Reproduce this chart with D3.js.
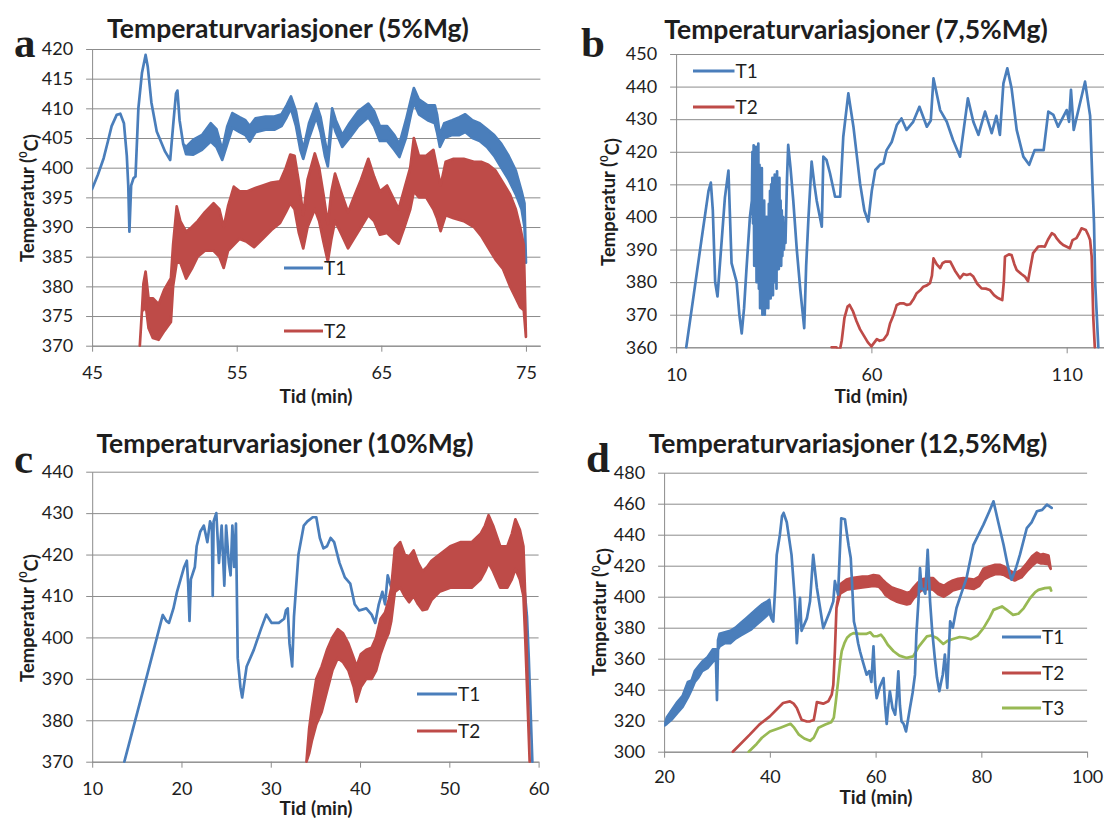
<!DOCTYPE html>
<html>
<head>
<meta charset="utf-8">
<script src="https://cdn.jsdelivr.net/npm/d3@7"></script>
<style>
  body { margin: 0; background: #fff; }
  text { font-family: Lato, "Open Sans", sans-serif; fill: #1e1e1e; }
</style>
</head>
<body>
<script>
// ---- titles / labels ----
const titles = ["Temperaturvariasjoner (5%Mg)", "Temperaturvariasjoner (7,5%Mg)",
                "Temperaturvariasjoner (10%Mg)", "Temperaturvariasjoner (12,5%Mg)"];
const letters = ["a", "b", "c", "d"];
const xTitle = "Tid (min)";
const seriesNames = ["T1", "T2", "T3"];
const colors = { T1: "#4A7EBB", T2: "#BE4B48", T3: "#98B954" };

// ---- tick values ----
const aXTicks = [45, 55, 65, 75];
const aYTicks = [370, 375, 380, 385, 390, 395, 400, 405, 410, 415, 420];
const bXTicks = [10, 60, 110];
const bYTicks = [360, 370, 380, 390, 400, 410, 420, 430, 440, 450];
const cXTicks = [10, 20, 30, 40, 50, 60];
const cYTicks = [370, 380, 390, 400, 410, 420, 430, 440];
const dXTicks = [20, 40, 60, 80, 100];
const dYTicks = [300, 320, 340, 360, 380, 400, 420, 440, 460, 480];

// ---- series: [time, temp] or [time, low, high] where the trace is a noisy band ----
const aT1 = [[45,396.4],[45.4,398.8],[45.8,401.6],[46.1,404.5],[46.35,407],[46.7,408.9],[46.95,409.1],[47.2,407.5],[47.4,402],[47.5,397],[47.58,389.2],[47.7,397],[47.86,398.2],[48,398.5],[48.2,410],[48.45,416],[48.7,419],[48.85,417],[49.1,411],[49.47,406.1],[50.05,402.7],[50.4,401.3],[50.6,407],[50.8,412.5],[50.9,413],[51.05,408],[51.3,404],[51.5,402.3,403.5],[52,402.2,404.7],[52.6,403,405.5],[53.2,404.4,407.5],[53.6,403.5,406.5],[54,401.3,403],[54.35,404,407],[54.7,406.7,409.2],[55.2,406,408.5],[55.6,405.5,408],[55.9,404.4,407],[56.3,406,408.3],[57,406.4,408.6],[57.6,406.4,408.6],[58.1,407,409],[58.45,408.5,410.5],[58.75,410,412],[59.1,407,409.5],[59.4,403,405.5],[59.6,401.5,403],[60,405,407.5],[60.5,408.5,410.8],[60.8,406,408.5],[61.1,402,404.5],[61.3,400.2,402],[61.45,404,406],[61.6,408,410],[61.85,406,408],[62.3,403.5,405.5],[62.8,405,407.5],[63.4,407,409.5],[64.1,408.5,410.8],[64.5,407,409.5],[64.9,404.5,407],[65.4,404.5,407],[65.9,403,405.5],[66.25,401.8,404],[66.7,405,408],[67.05,409,411.5],[67.25,411,413.4],[67.6,409,411.5],[68.2,408,410.5],[68.7,407.5,410.5],[68.85,406,409],[69.05,403.5,405.5],[69.35,405,407.5],[69.9,405.5,408],[70.4,405.5,408.5],[70.8,406,409],[71.3,405,408],[71.8,404.5,407.5],[72.3,403.5,406.5],[72.8,402,405.5],[73.3,400,404],[73.8,398,402],[74.3,395.5,399.5],[74.7,393,396],[74.9,390,394],[75,384]];
const aT2 = [[48.3,370],[48.45,376],[48.55,376,380.5],[48.7,377,382.5],[48.9,373,378],[49.2,371.3,378],[49.6,371,377],[50,372.5,379.5],[50.45,374,381.4],[50.6,380,387],[50.85,384,393.5],[51.1,384,391],[51.5,381.3,389.2],[51.9,383,390],[52.3,385,391],[52.8,386,392.5],[53.4,386,394],[53.8,385,393],[54.1,383.1,390],[54.4,386,393.5],[54.8,387,396.8],[55.2,388,396],[55.7,387.5,396],[56.2,386.6,396.5],[56.8,388,397],[57.4,389.5,397.5],[58,390.7,397.7],[58.4,392.5,400],[58.7,394,402.2],[59,393,402],[59.3,389,397.5],[59.6,386.4,392],[59.9,390,398],[60.4,393,402.4],[60.7,391,400],[61,387.5,395.5],[61.3,384.2,390.5],[61.55,388,396],[61.8,391,399],[62.2,389,396],[62.7,386.4,392.5],[63.1,388,395],[63.6,390,398],[64.1,392,401.5],[64.5,391,398.5],[64.9,388.7,396],[65.4,389,397],[65.8,388,395],[66.2,387.2,393],[66.6,390,396.5],[67,393,400],[67.25,396,405],[67.6,395,402],[68.1,395,402],[68.6,393,403],[68.85,391.5,400],[69.1,389.3,397],[69.45,392,401],[70,391.5,401.5],[70.7,391,401.5],[71.4,390,401],[71.9,388.5,401],[72.4,386.5,400.5],[72.9,384.5,399.5],[73.4,383,397.5],[73.9,380,395.5],[74.3,378,393],[74.6,376.5,390],[74.85,376,387],[75,371.5]];

const bT1 = [[12.6,360],[14.5,376],[16.5,393],[18.3,408],[18.9,410.5],[19.4,402],[20.0,380],[20.6,375.6],[21.5,390],[22.5,406],[23.4,414.2],[23.8,400],[24.2,385.8],[25.5,380],[26.2,370],[26.8,364.3],[27.4,372],[28.0,383.7],[28.9,400],[29.4,405],[29.55,420],[29.7,398],[29.85,422],[30.0,385],[30.15,415],[30.3,395],[30.45,421.5],[30.6,380],[30.75,418],[30.9,400],[31.05,422.5],[31.2,378],[31.35,416],[31.5,372],[31.65,410],[31.8,375],[31.95,415],[32.1,370],[32.25,398],[32.4,372],[32.55,405],[32.7,370],[32.85,396],[33.0,372],[33.15,400],[33.3,378],[33.45,395],[33.6,372],[33.75,404],[33.9,380],[34.05,408],[34.2,375],[34.35,410],[34.5,382],[34.65,412],[34.8,376],[34.95,408],[35.1,385],[35.25,413],[35.4,380],[35.55,410],[35.7,378],[35.85,414],[36.0,388],[36.15,405],[36.3,384],[36.45,412],[36.6,386],[36.75,405],[36.9,385],[37.05,402],[37.2,388],[37.4,400],[37.6,390],[37.8,395],[38.0,392],[38.4,412],[38.7,422.1],[39.3,415],[40.0,405],[40.9,390],[41.8,377.6],[42.8,365.9],[43.3,385],[43.9,400],[44.7,417],[45.4,410],[46.0,405],[47.3,397],[47.7,418.5],[48.5,417.5],[49.4,413.4],[50.7,406.2],[52.0,406.2],[52.8,424.6],[54.1,437.9],[55.4,427.7],[57.1,410.3],[58.2,402],[59.2,398.6],[60.1,408],[61.0,414.4],[62.2,416],[63.1,416.5],[63.9,420.5],[65.2,423],[66.5,428.2],[67.7,430.2],[69.0,426.7],[70.7,429.2],[72.3,433.8],[74.2,427.7],[75.2,429.6],[75.9,442.5],[77.6,432.8],[79.3,429.2],[80.9,423.6],[82.7,418.5],[84.7,436.4],[86.1,429.2],[87.4,425.2],[89.1,432.3],[90.8,425.7],[92.0,431],[92.9,425.2],[93.8,441],[94.8,445.6],[95.9,439.4],[97.2,426.7],[98.9,418.5],[100.4,416],[101.8,420.5],[103.1,420.5],[104.1,420.5],[105.3,432.3],[106.6,431.3],[107.8,427.7],[110.0,432.8],[110.6,429.2],[111.1,439],[111.8,426.7],[113.0,432.8],[114.7,441.5],[116.0,431],[116.6,410.3],[117.0,398],[117.3,379.7],[118.1,360]];
const bT2 = [[49.8,360],[51.0,360],[51.9,359],[52.4,362],[53.1,369],[53.9,372.5],[54.4,373],[55.3,371],[56.2,368],[57.1,365.5],[58.1,363.5],[59.1,361.5],[60.0,360.3],[61.4,362.5],[62.1,362],[63.1,362.3],[64.1,364],[64.8,367.4],[65.7,370],[66.5,373],[67.4,373.5],[68.2,373.5],[69.1,373],[69.9,373.2],[70.9,375],[71.6,376.6],[72.5,377.5],[73.3,378.6],[74.2,379],[75.0,379.7],[75.5,382],[75.9,387.3],[76.7,385.5],[77.6,384.3],[78.2,385.8],[78.9,386.3],[80.2,386.3],[81.4,383.5],[82.7,381.2],[83.6,382.5],[84.4,382.2],[85.3,382.5],[86.1,381.7],[87.1,379.5],[88.2,378.1],[89.3,378],[90.3,377.6],[91.4,376],[92.4,375.1],[93.5,374.5],[93.9,380],[94.2,387.8],[95.2,388.5],[95.9,388.3],[96.6,385.5],[97.2,383.7],[98.4,382.5],[99.3,381.7],[100.1,380.3],[100.8,385],[101.4,388.9],[102.7,390.9],[103.5,391],[104.4,390.9],[105.2,393],[106.2,395],[106.9,394.5],[107.4,393.5],[108.3,392.2],[109.1,391.4],[110.8,390.4],[111.5,392.9],[112.5,393.5],[113.2,395],[113.8,396.5],[114.9,396],[115.5,394.5],[116.0,392.9],[116.4,387.8],[116.8,369.4],[117.2,360]];

const cT1 = [[13.6,370],[15.8,388],[17.9,405.4],[18.3,404],[18.6,403.5],[19.1,407],[19.5,411],[19.9,414],[20.3,417],[20.6,418.5],[20.75,413],[20.9,404],[21.05,414],[21.5,417],[21.7,422],[22.1,425.5],[22.5,427],[22.9,423],[23.2,428],[23.4,427],[23.5,410],[23.6,428],[23.9,430],[24.2,418],[24.5,427],[24.8,412.5],[25,427],[25.3,418],[25.5,415],[25.7,427],[25.9,417],[26.1,427.5],[26.3,395],[26.6,388],[26.8,385.5],[27.3,393],[28.1,397],[28.9,402],[29.5,405.5],[30.1,403.5],[30.9,403.5],[31.5,404.5],[31.7,406.5],[31.9,407],[32.1,398.5],[32.4,393],[32.6,405],[33.1,420],[33.7,427],[34.1,428],[34.7,429],[35.1,429],[35.5,424],[35.9,421.5],[36.3,422],[36.7,424],[37.1,423],[37.7,418],[38.3,414.5],[38.9,413],[39.4,408],[39.9,406.5],[40.7,407],[41.3,405.5],[41.7,403.5],[42.1,408],[42.5,411],[42.8,408],[43.1,415],[43.5,412],[44.5,415],[46,414],[48,414],[50,415],[52,416],[54.5,418.7],[55.5,416],[56.5,414],[57.3,418],[58,417],[58.4,412],[58.7,405],[58.9,395],[59.3,370]];
const cT2 = [[34,370],[34.3,372,378],[34.6,375,383],[35.1,379,390],[35.7,382,393],[36.3,387,397],[36.9,392,400],[37.5,395,402],[38.1,394,401],[38.7,392,398.5],[39.3,388,395],[39.6,384.5,393],[40.1,388,396],[40.7,390,397],[41.3,390,397.5],[41.8,392,400],[42.3,396,404.5],[42.8,399,406],[43.2,401,409],[43.5,404,412],[43.9,411,421.5],[44.5,412,423],[45.0,410,420],[45.5,408.5,419.5],[46.0,410,421],[46.5,408,418],[47.0,406.6,416],[47.5,406.8,417],[48.0,409,418.5],[48.9,411,420],[50.1,412,422],[51.3,412,423],[52.5,412,423],[53.5,414,425],[54.0,416,427],[54.4,418,429.5],[54.9,416,427],[55.7,412,422],[56.5,412,422],[57.0,414,425],[57.4,416.5,428.5],[57.9,414,426],[58.3,410,422],[58.5,400,410],[58.75,385,390],[59.0,370]];

const dT1 = [[20.1,317],[20.5,318,322],[21.5,321,327],[22.5,325,332],[23.5,329,336],[24.5,335,345],[25.2,340,346],[25.8,345,352],[26.5,348,355],[27.2,352,358],[28.2,354,361],[29.2,358,366],[29.8,360,366],[30.0,333.3],[30.2,366,372],[30.5,368,376],[31.5,370,377],[32.5,370,378],[33.5,373,380],[34.5,375,383],[35.5,377,386],[36.5,379,389],[37.5,382,392],[38.5,385,395],[39.5,388,397],[39.9,390,398],[40.3,386],[40.65,384],[41.0,405],[41.3,427],[41.9,440],[42.3,452],[42.6,454],[43.2,448],[44.1,427],[44.75,397],[45.1,370],[45.7,399.2],[46.0,378],[47.0,386],[47.6,397],[48.2,427],[48.9,405.6],[50.1,379.8],[51.4,391],[52.0,397],[52.3,410],[52.9,401.4],[53.5,450.6],[54.2,450],[54.6,440],[54.9,433],[55.3,425],[55.6,405],[55.9,384],[56.3,378],[56.7,370],[57.05,364.8],[57.6,358],[58.3,349.7],[58.8,352],[59.2,345],[59.6,368],[59.9,345],[60.2,334.6],[60.8,342],[61.5,347.5],[61.8,330],[62.1,318],[62.4,330],[62.7,339],[63.2,328],[63.7,323.9],[64.0,335],[64.3,351.9],[64.6,330],[64.9,319.6],[65.3,318],[65.75,313.1],[66.1,320],[66.5,328.2],[67.0,338],[67.45,349.7],[67.7,375],[68.1,397],[68.4,418.5],[68.7,405],[69.0,405],[69.4,402],[69.85,430.3],[70.3,397],[70.7,378],[71.2,360.3],[71.6,348],[72.05,339],[72.4,345],[72.7,349.7],[73.1,362.6],[73.55,341.1],[74.1,384.1],[74.6,380],[75.3,392.7],[76.2,402],[77.2,412],[78.5,433.5],[80.4,446.5],[81.5,455],[82.3,461.5],[83.2,448],[84.2,433.5],[85.0,420],[85.7,411],[86.5,418],[87.3,427.1],[88.6,444.3],[89.5,448],[90.5,455.1],[91.5,456],[92.4,459.4],[93.3,457.3]];
const dT2 = [[33,300],[36.2,311],[38,317.5],[40,322.8],[42.5,331.4],[43.8,332.5],[44.5,331],[45.1,328.2],[46,320.6],[47,319.5],[47.6,319.6],[48.3,320.5],[48.6,326],[48.9,332],[50.1,331],[51.05,332.5],[51.7,336.8],[52,343],[52.3,364.8],[52.6,392.7],[53.3,402,408],[54.5,404.5,411],[55.5,405,412],[56.5,405.5,412.5],[57.5,406,413],[58.6,406.5,413],[59.6,407,414],[60.6,406.5,413.5],[61.3,404,411],[61.9,401,409],[63,398.5,406],[63.9,397,405],[64.8,396,404],[65.9,395,402.5],[66.5,395.5,403],[67.2,399,406],[68,402,409],[68.6,404,411],[69.9,405,412],[70.9,404.5,412],[71.9,401.5,408.5],[72.9,400,407],[73.8,402,409],[74.6,404,410.5],[75.6,405,411.5],[76.6,406,412],[77.6,405.5,411.5],[78.6,405,411],[79.6,407,413],[80.4,411,418],[81.5,413,419.5],[82.6,414.5,420.5],[83.6,414.5,420.5],[84.3,414,419.5],[85.3,412,417],[86.3,410.5,415],[87.6,412.5,417.5],[88.6,416.5,421.5],[89.6,420,426],[90.5,422.5,428.5],[91.2,421.5,427],[91.7,421.5,427.5],[92.7,421,426.5],[93.1,418]];
const dT3 = [[36,300],[37.5,305],[38.5,309],[40,313],[42,315.5],[43.9,318],[44.6,315.5],[45.5,311],[46.5,308.5],[47.6,307],[48.3,309],[49.2,315.5],[50.5,317.5],[51.6,319],[52.1,322],[52.5,333],[52.9,345],[53.3,358],[53.6,365],[54.1,370],[54.6,373.5],[55.2,375.5],[55.8,376.5],[57,376],[58.2,376],[59,377],[59.6,374.5],[60.3,374.5],[61,375.5],[61.5,373.5],[62.3,369],[63.4,364.8],[64.5,362],[65.9,360.5],[67.1,361.5],[68.2,368],[69.7,374.4],[70.5,375],[71.6,373.3],[72.8,369.5],[73.6,371.5],[74.5,372.5],[75.9,374],[77,373.5],[78,372.5],[79.3,375],[80.4,379.7],[81.5,386],[82.3,391.5],[83.9,393.7],[84.8,391.5],[86,388.3],[87,389],[88,392.5],[89.2,399],[90.2,403],[90.8,404.4],[92,405.5],[93,405.9],[93.2,404]];

// ---- layout ----
const panels = [
  { title: titles[0], letter: letters[0], xDomain: [45, 76], xRange: [92.1, 540.4], yDomain: [370, 420], yRange: [345.7, 49],
    xTicks: aXTicks, yTicks: aYTicks, data: { T1: aT1, T2: aT2 }, drawOrder: ["T1", "T2"], xPad: 15,
    titlePos: [288, 28], letterPos: [14, 57], xTitlePos: [316, 396], yTitlePos: [27, 198],
    legend: { x0: 284, x1: 323, ys: [268, 331] } },
  { title: titles[1], letter: letters[1], xDomain: [10, 130], xRange: [676.1, 1144.8], yDomain: [360, 450], yRange: [347.3, 54],
    xTicks: bXTicks, yTicks: bYTicks, data: { T1: bT1, T2: bT2 }, drawOrder: ["T1", "T2"], xPad: 15,
    titlePos: [856, 29], letterPos: [581, 57], xTitlePos: [871, 396], yTitlePos: [608, 202],
    legend: { x0: 693, x1: 734.5, ys: [71, 107] } },
  { title: titles[2], letter: letters[2], xDomain: [10, 60], xRange: [92.2, 538.6], yDomain: [370, 440], yRange: [761.7, 471.7],
    xTicks: cXTicks, yTicks: cYTicks, data: { T1: cT1, T2: cT2 }, drawOrder: ["T1", "T2"], xPad: 15,
    titlePos: [285, 443], letterPos: [14, 473], xTitlePos: [316, 808], yTitlePos: [27, 618],
    legend: { x0: 417, x1: 457, ys: [694, 731] } },
  { title: titles[3], letter: letters[3], xDomain: [20, 100], xRange: [664.1, 1087.1], yDomain: [300, 480], yRange: [751.7, 472.7],
    xTicks: dXTicks, yTicks: dYTicks, data: { T1: dT1, T2: dT2, T3: dT3 }, drawOrder: ["T3", "T2", "T1"], xPad: 13,
    titlePos: [848, 443], letterPos: [586, 472], xTitlePos: [876, 797], yTitlePos: [599.5, 612],
    legend: { x0: 1002, x1: 1041, ys: [637, 673, 708] } }
];

const svg = d3.select("body").append("svg")
  .attr("width", 1104).attr("height", 819)
  .style("background", "#fff");

panels.forEach((p, i) => {
  const x = d3.scaleLinear().domain(p.xDomain).range(p.xRange);
  const y = d3.scaleLinear().domain(p.yDomain).range(p.yRange);
  const [xl, xr] = p.xRange, [yb, yt] = p.yRange;
  const g = svg.append("g");

  // horizontal gridlines
  g.append("g").attr("transform", `translate(${xl},0)`)
    .call(d3.axisLeft(y).tickValues(p.yTicks).tickSize(-(xr - xl)).tickFormat(""))
    .call(s => s.select(".domain").remove())
    .call(s => s.selectAll("line").attr("stroke", "#8c8c8c").attr("stroke-width", 1));

  // y axis
  g.append("g").attr("transform", `translate(${xl},0)`)
    .call(d3.axisLeft(y).tickValues(p.yTicks).tickSize(6).tickSizeOuter(0).tickPadding(13).tickFormat(d3.format("d")))
    .call(s => s.select(".domain").attr("stroke", "#8c8c8c"))
    .call(s => s.selectAll(".tick line").attr("stroke", "#8c8c8c"))
    .call(s => s.selectAll("text").attr("font-size", 18).attr("font-family", "Lato").attr("fill", "#1e1e1e"));

  // x axis
  g.append("g").attr("transform", `translate(0,${yb})`)
    .call(d3.axisBottom(x).tickValues(p.xTicks).tickSize(6).tickSizeOuter(0).tickPadding(p.xPad).tickFormat(d3.format("d")))
    .call(s => s.select(".domain").attr("stroke", "#8c8c8c"))
    .call(s => s.selectAll(".tick line").attr("stroke", "#8c8c8c"))
    .call(s => s.selectAll("text").attr("font-size", 18).attr("font-family", "Lato").attr("fill", "#1e1e1e"));

  // data
  const clipId = "clip" + i;
  svg.append("clipPath").attr("id", clipId).append("rect")
    .attr("x", xl).attr("y", yt - 1).attr("width", xr - xl).attr("height", yb - yt + 2.5);
  const area = d3.area()
    .x(d => x(d[0]))
    .y0(d => y(d[1]))
    .y1(d => y(d.length > 2 ? d[2] : d[1]));
  const lines = g.append("g").attr("clip-path", `url(#${clipId})`);
  p.drawOrder.forEach(name => {
    lines.append("path")
      .datum(p.data[name])
      .attr("d", area)
      .attr("fill", colors[name])
      .attr("stroke", colors[name])
      .attr("stroke-width", 2.7)
      .attr("stroke-linejoin", "round")
      .attr("stroke-linecap", "round");
  });

  // legend
  p.legend.ys.forEach((ly, k) => {
    const name = seriesNames[k];
    g.append("line").attr("x1", p.legend.x0).attr("x2", p.legend.x1)
      .attr("y1", ly).attr("y2", ly)
      .attr("stroke", colors[name]).attr("stroke-width", 3);
    g.append("text").attr("x", p.legend.x1 + 1).attr("y", ly).attr("dy", "0.36em")
      .attr("font-size", 19).text(name);
  });

  // titles
  g.append("text").attr("x", p.titlePos[0]).attr("y", p.titlePos[1]).attr("dy", "0.36em")
    .attr("text-anchor", "middle").attr("font-weight", "bold").attr("font-size", 26.5)
    .attr("fill", "#000").text(p.title);
  g.append("text").attr("x", p.letterPos[0]).attr("y", p.letterPos[1])
    .style("font-family", "'Liberation Serif', serif")
    .attr("font-weight", "bold").attr("font-size", 43).attr("fill", "#000")
    .text(p.letter);
  g.append("text").attr("x", p.xTitlePos[0]).attr("y", p.xTitlePos[1]).attr("dy", "0.36em")
    .attr("text-anchor", "middle").attr("font-weight", "bold").attr("font-size", 19)
    .attr("fill", "#000").text(xTitle);
  const yTitle = g.append("text")
    .attr("transform", `translate(${p.yTitlePos[0]},${p.yTitlePos[1]}) rotate(-90)`)
    .attr("text-anchor", "middle").attr("dy", "0.36em")
    .attr("font-weight", "bold").attr("font-size", 18.5).attr("fill", "#000");
  yTitle.append("tspan").text("Temperatur (");
  yTitle.append("tspan").attr("font-size", 11).attr("dy", "-0.6em").text("0");
  yTitle.append("tspan").attr("dy", "0.6em").text("C)");
});
</script>
</body>
</html>
